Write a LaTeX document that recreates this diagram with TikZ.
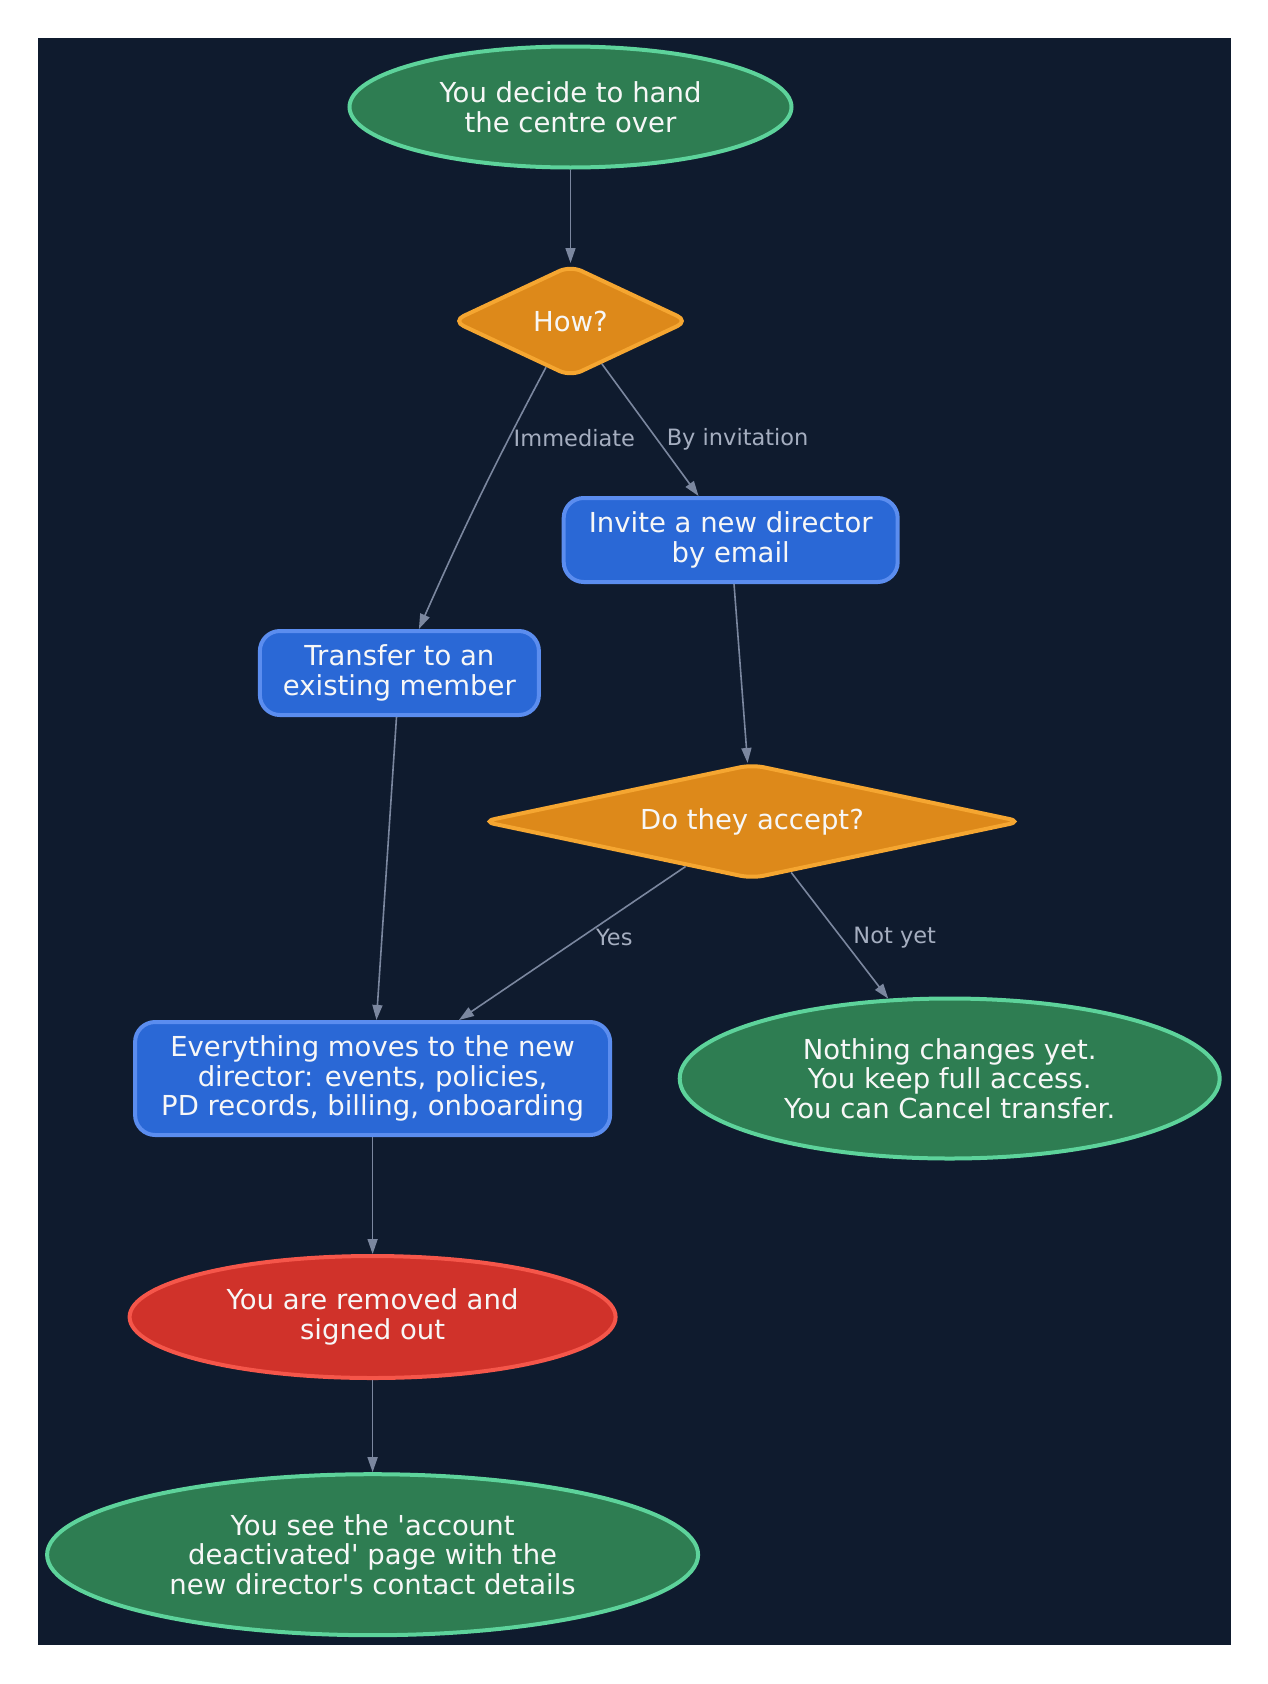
\documentclass[tikz,border=0pt]{standalone}
\usepackage{fontspec}
\setmainfont{DejaVu Sans}
\usepackage{tikz}
\usetikzlibrary{arrows.meta,shapes.geometric}
\usepackage{xcolor}
\definecolor{hobg}{RGB}{15,27,46}
\definecolor{hotext}{RGB}{247,247,247}
\definecolor{holabel}{RGB}{165,174,192}
\definecolor{hoedge}{RGB}{123,135,159}
\definecolor{hogreen}{RGB}{46,125,82}
\definecolor{hogreenline}{RGB}{93,211,155}
\definecolor{hoorange}{RGB}{221,137,26}
\definecolor{hoorangeline}{RGB}{245,166,49}
\definecolor{hoblue}{RGB}{42,104,214}
\definecolor{hoblueline}{RGB}{91,141,239}
\definecolor{hored}{RGB}{208,50,42}
\definecolor{horedline}{RGB}{245,86,74}
\tikzstyle{decision} = [diamond, rounded corners=12pt, draw=hoorangeline, fill=hoorange, line width=4pt, inner sep=2pt, align=center]
\tikzstyle{arrow} = [line width=1.6pt,-{Triangle[length=15pt,width=10pt]},color=hoedge]

\begin{document}
\begin{tikzpicture}[
    x=1pt, y=-1pt,
    every node/.style={font=\fontsize{27.5}{29.5}\selectfont, text=hotext},
    terminal/.style={ellipse, draw=hogreenline, fill=hogreen, line width=4pt, inner sep=2pt, align=center},
    alarm/.style={ellipse, draw=horedline, fill=hored, line width=4pt, inner sep=2pt, align=center},
    stepbox/.style={rectangle, rounded corners=20pt, draw=hoblueline, fill=hoblue, line width=4pt, inner sep=2pt, align=center},
    elabel/.style={font=\fontsize{22.5}{26}\selectfont, text=holabel, inner sep=1pt, anchor=west}
]

% Page and background
\useasboundingbox (0,0) rectangle (1268,1684);
\fill[white] (0,0) rectangle (1268,1684);
\fill[hobg] (37.5,37.5) rectangle (1230.5,1645);

% Start
\node[terminal, minimum width=442pt, minimum height=121pt] (start) at (570.5,107) {You decide to hand\\the centre over};

% First question
\node[decision, aspect=2.1, minimum width=237pt, minimum height=112pt] (how) at (570.5,321) {How?};

% The two ways
\node[stepbox, minimum width=334pt, minimum height=84pt] (invite) at (730.7,540) {Invite a new director\\by email};
\node[stepbox, minimum width=279pt, minimum height=84pt] (transfer) at (399.4,673) {Transfer to an\\existing member};

% Second question
\node[decision, aspect=4.66, minimum width=540pt, minimum height=115pt] (accept) at (752,821.5) {Do they accept?};

% Outcomes
\node[stepbox, minimum width=475pt, minimum height=113pt] (moves) at (372.6,1078.5) {Everything moves to the new\\director: events, policies,\\PD records, billing, onboarding};
\node[terminal, minimum width=540pt, minimum height=160pt] (waiting) at (949.7,1078.5) {Nothing changes yet.\\You keep full access.\\You can Cancel transfer.};
\node[alarm, minimum width=486pt, minimum height=122pt] (removed) at (372.6,1317) {You are removed and\\signed out};
\node[terminal, minimum width=651pt, minimum height=161pt] (deactivated) at (372.6,1554.7) {You see the \textquotesingle account\\deactivated\textquotesingle{} page with the\\new director\textquotesingle s contact details};

% Arrows
\draw[arrow] (start) -- (how);
\draw[arrow] (how) to[bend right=2] node[elabel, pos=0.26, xshift=3pt] (lblnow) {Immediate} (transfer);
\draw[arrow] (how) -- node[elabel, pos=0.57, xshift=8pt] (lblinvite) {By invitation} (invite);
\draw[arrow] (invite) -- (accept);
\draw[arrow] (transfer) -- (moves);
\draw[arrow] (accept) -- node[elabel, pos=0.46, xshift=13pt] (lblyes) {Yes} (moves);
\draw[arrow] (accept) -- node[elabel, pos=0.52, xshift=10pt] (lblnotyet) {Not yet} (waiting);
\draw[arrow] (moves) -- (removed);
\draw[arrow] (removed) -- (deactivated);

\end{tikzpicture}
\end{document}
